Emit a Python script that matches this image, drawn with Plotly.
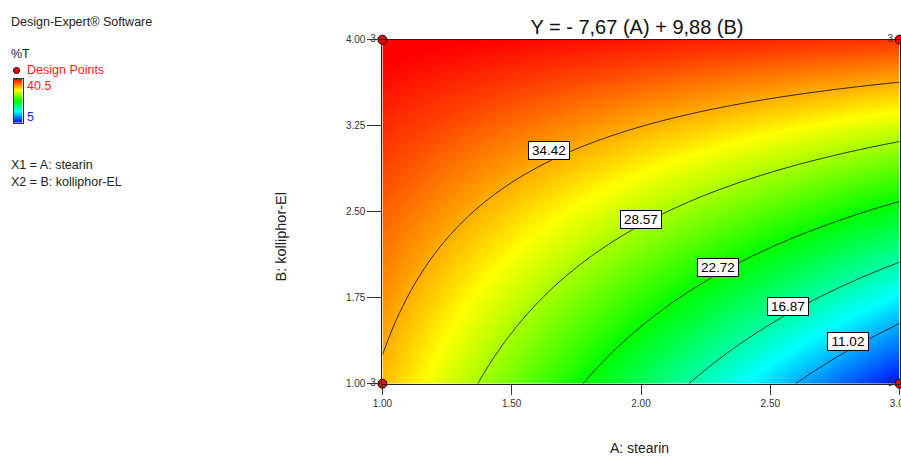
import numpy as np
import plotly.graph_objects as go

# ---- data ----
# quadratic response model in coded units a=(A-2), b=(B-2.5)/1.5, fitted to the contour lines
coef_names = ['const', 'a', 'b', 'ab', 'a2', 'b2']
coef_vals = [29.35, -7.74, 10.11, 6.54, 0.12, 0.27]
contour_levels = [11.02, 16.87, 22.72, 28.57, 34.42]
label_A = [2.80, 2.568, 2.299, 2.0, 1.644]
label_B = [1.366, 1.675, 2.015, 2.436, 3.03]
design_A = [1.0, 1.0, 3.0, 3.0]
design_B = [1.0, 4.0, 1.0, 4.0]
design_reps = ['3', '3', '3', '3']
x_ticks = [1.0, 1.5, 2.0, 2.5, 3.0]
x_ticktext = ['1.00', '1.50', '2.00', '2.50', '3.00']
y_ticks = [1.0, 1.75, 2.5, 3.25, 4.0]
y_ticktext = ['1.00', '1.75', '2.50', '3.25', '4.00']
z_low, z_high = 5, 40.5

# ---- surface ----
gx = np.linspace(1, 3, 161)
gy = np.linspace(1, 4, 161)
GX, GY = np.meshgrid(gx, gy)
a = GX - 2
b = (GY - 2.5) / 1.5
c = dict(zip(coef_names, coef_vals))
GZ = c['const'] + c['a']*a + c['b']*b + c['ab']*a*b + c['a2']*a*a + c['b2']*b*b

cs = [[0, 'rgb(0,0,255)'], [0.25, 'rgb(0,255,255)'], [0.5, 'rgb(0,255,0)'],
      [0.75, 'rgb(255,255,0)'], [1, 'rgb(255,0,0)']]

FONT = 'Arial, Liberation Sans, sans-serif'
W, H = 901, 456

def px(xp):
    return xp / W

def py(yp):
    return 1 - yp / H

fig = go.Figure()
fig.add_trace(go.Heatmap(
    x=gx, y=gy, z=GZ, zmin=z_low, zmax=z_high, colorscale=cs, zsmooth='best',
    showscale=False, hoverinfo='skip'))
n_lev = len(contour_levels)
fig.add_trace(go.Contour(
    x=gx, y=gy, z=GZ, showscale=False, hoverinfo='skip',
    contours=dict(start=contour_levels[0], end=contour_levels[-1],
                  size=(contour_levels[-1] - contour_levels[0]) / (n_lev - 1), coloring='none'),
    line=dict(color='black', width=0.8)))
fig.add_trace(go.Scatter(
    x=design_A, y=design_B, mode='markers+text', text=design_reps, textposition='middle left',
    textfont=dict(family=FONT, size=10, color='#333'), cliponaxis=False,
    marker=dict(symbol='circle', size=9, color='red', line=dict(color='black', width=1)),
    hoverinfo='skip', showlegend=False))
# small colour key in the side panel
key_z = np.linspace(z_low, z_high, 60).reshape(-1, 1)
fig.add_trace(go.Heatmap(z=key_z, x=[0], y=np.linspace(z_low, z_high, 60), zmin=z_low, zmax=z_high,
                         colorscale=cs, showscale=False, hoverinfo='skip', xaxis='x2', yaxis='y2'))

ann = []
for lv, la, lb in zip(contour_levels, label_A, label_B):
    ann.append(dict(x=la, y=lb, xref='x', yref='y', text=f'{lv:.2f}', showarrow=False,
                    font=dict(family=FONT, size=13.5, color='black'), bgcolor='white',
                    bordercolor='black', borderwidth=1, borderpad=1, width=38))

def txt(s, xp, yp, size=12.5, color='#222', xanchor='left', angle=0):
    ann.append(dict(text=s, xref='paper', yref='paper', x=px(xp), y=py(yp), xanchor=xanchor,
                    yanchor='middle', showarrow=False, textangle=angle,
                    font=dict(family=FONT, size=size, color=color)))

txt('Design-Expert® Software', 9, 22)
txt('%T', 9, 54)
txt('Design Points', 25, 70.5, color='#ff2020')
txt('40.5', 25, 86, color='#ff2020')
txt('5', 25, 117, color='#2020ff')
txt('X1 = A: stearin', 9, 165)
txt('X2 = B: kolliphor-EL', 9, 182)
txt('A: stearin', 639.5, 447.5, size=14, xanchor='center')
txt('B: kolliphor-El', 280, 237.5, size=14.5, xanchor='center', angle=-90)

shapes = [dict(type='circle', xref='paper', yref='paper', x0=px(13.5), x1=px(19.5),
               y0=py(73.5), y1=py(67.5), fillcolor='red', line=dict(color='black', width=1))]

fig.update_layout(
    width=W, height=H, margin=dict(l=0, r=0, t=0, b=0, autoexpand=False),
    paper_bgcolor='white', plot_bgcolor='white', showlegend=False,
    title=dict(text='Y = - 7,67 (A) + 9,88 (B)', x=px(637), xanchor='center', xref='paper',
               y=1 - 27 / H, yanchor='middle', yref='container', automargin=False,
               font=dict(family=FONT, size=20, color='#111')),
    xaxis=dict(domain=[px(382.4), px(899.6)], range=[1, 3], tickvals=x_ticks, ticktext=x_ticktext,
               ticks='outside', ticklen=10, automargin=False, ticklabeloverflow='allow',
               tickcolor='#333', showline=True, linecolor='#222', linewidth=1, mirror=True,
               showgrid=False, zeroline=False, tickfont=dict(family=FONT, size=10, color='#333')),
    yaxis=dict(domain=[py(383.7), py(39.7)], range=[1, 4], tickvals=y_ticks, ticktext=y_ticktext,
               ticks='outside', ticklen=14, automargin=False, ticklabeloverflow='allow',
               tickcolor='#333', showline=True, linecolor='#222', linewidth=1, mirror=True,
               showgrid=False, zeroline=False, tickfont=dict(family=FONT, size=10, color='#333')),
    xaxis2=dict(domain=[px(13.5), px(22.5)], anchor='y2', showticklabels=False, ticks='',
                automargin=False,
                showgrid=False, zeroline=False, showline=True, linecolor='#333', mirror=True),
    yaxis2=dict(domain=[py(122.5), py(79)], anchor='x2', showticklabels=False, ticks='',
                automargin=False,
                showgrid=False, zeroline=False, showline=True, linecolor='#333', mirror=True),
    annotations=ann, shapes=shapes)
fig.write_html('out.html')
